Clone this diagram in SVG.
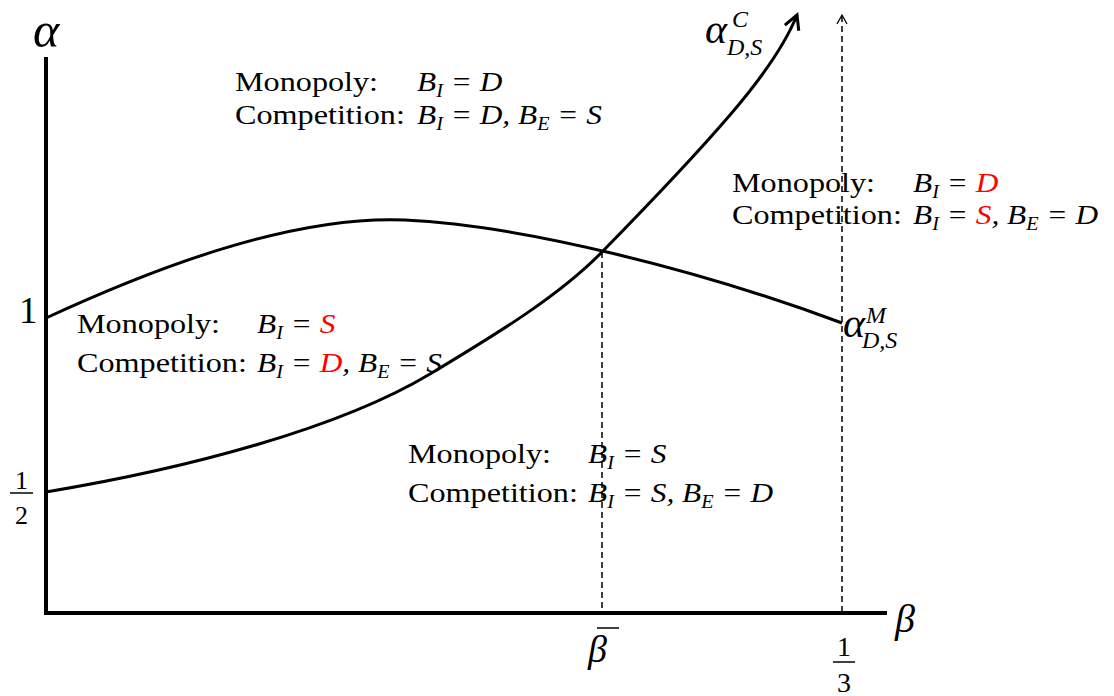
<svg xmlns="http://www.w3.org/2000/svg" width="1114" height="696" viewBox="0 0 1114 696">
<defs>
<style>
.t{font-family:"Liberation Serif","Times New Roman",serif;font-size:28px;fill:#000}
.i{font-style:italic}
.sub{font-size:18px}
.red{fill:#ff0000}
.axis{stroke:#000;stroke-width:4;fill:none}
.curve{stroke:#000;stroke-width:3;fill:none}
.dash{stroke:#000;stroke-width:1.5;stroke-dasharray:6 4;fill:none}
.m{font-family:"Liberation Serif","Times New Roman",serif;fill:#000}
</style>
<marker id="arrC" viewBox="-18 -10 22 20" refX="0" refY="0" markerWidth="22" markerHeight="20" markerUnits="userSpaceOnUse" orient="auto">
<path d="M-14,-7.5 L0,0 L-14,7.5" fill="none" stroke="#000" stroke-width="3"/>
</marker>
<marker id="arrD" viewBox="-12 -7 14 14" refX="0" refY="0" markerWidth="14" markerHeight="14" markerUnits="userSpaceOnUse" orient="auto">
<path d="M-9,-5 L0,0 L-9,5" fill="none" stroke="#000" stroke-width="1.3"/>
</marker>
</defs>

<g id="axes">
<line class="axis" x1="46" y1="57" x2="46" y2="615"/>
<line class="axis" x1="44" y1="613" x2="887" y2="613"/>
<text class="m i" x="33" y="47" font-size="50">α</text>
<text class="m i" x="895" y="632" font-size="40">β</text>
<text class="m" x="19" y="323" font-size="37">1</text>
<g id="half">
<text class="m" x="21.5" y="489" font-size="26" text-anchor="middle">1</text>
<line x1="10" y1="493" x2="33" y2="493" stroke="#000" stroke-width="1.5"/>
<text class="m" x="21.5" y="524" font-size="26" text-anchor="middle">2</text>
</g>
<g id="betabar">
<text class="m i" x="588" y="662" font-size="38">β</text>
<line x1="597" y1="628" x2="619" y2="628" stroke="#000" stroke-width="1.5"/>
</g>
<g id="third">
<text class="m" x="844" y="656" font-size="28" text-anchor="middle">1</text>
<line x1="833" y1="662" x2="855" y2="662" stroke="#000" stroke-width="1.5"/>
<text class="m" x="844" y="692" font-size="28" text-anchor="middle">3</text>
</g>
</g>

<g id="connectors">
<path class="dash" d="M602,252 L602,612"/>
<path class="dash" d="M842,612 L842,15" marker-end="url(#arrD)"/>
<path id="alphaM" class="curve" d="M46,318 C150,270 290,215 405,220 C520,225 700,270 842,323"/>
<path id="alphaC" class="curve" d="M46,492 C190,468 340,428 430,374 C500,332 560,295 602,252 C650,203 700,150 730,115 C760,80 785,45 797,15" marker-end="url(#arrC)"/>
</g>

<g id="label-alphaC">
<text class="m i" x="705" y="43" font-size="42">α</text>
<text class="m i" x="732" y="27" font-size="24">C</text>
<text class="m i" x="727" y="55" font-size="24">D,S</text>
</g>
<g id="label-alphaM">
<text class="m i" x="843" y="337" font-size="42">α</text>
<text class="m i" x="866" y="323" font-size="24">M</text>
<text class="m i" x="862" y="348" font-size="24">D,S</text>
</g>

<g id="region-top" class="t">
<g transform="translate(235,91) scale(1.15,1)">
<text x="0" y="0">Monopoly:</text>
<text x="0" y="33">Competition:</text>
</g>
<g transform="translate(417,91) scale(1.12,1)">
<text class="i" x="0" y="0">B<tspan class="sub" dy="6">I</tspan><tspan dy="-6"> = D</tspan></text>
<text class="i" x="0" y="33">B<tspan class="sub" dy="6">I</tspan><tspan dy="-6"> = D, B</tspan><tspan class="sub" dy="6">E</tspan><tspan dy="-6"> = S</tspan></text>
</g>
</g>

<g id="region-right" class="t">
<g transform="translate(732,192) scale(1.15,1)">
<text x="0" y="0">Monopoly:</text>
<text x="0" y="32">Competition:</text>
</g>
<g transform="translate(913,192) scale(1.12,1)">
<text class="i" x="0" y="0">B<tspan class="sub" dy="6">I</tspan><tspan dy="-6"> = </tspan><tspan class="red">D</tspan></text>
<text class="i" x="0" y="32">B<tspan class="sub" dy="6">I</tspan><tspan dy="-6"> = </tspan><tspan class="red">S</tspan><tspan>, B</tspan><tspan class="sub" dy="6">E</tspan><tspan dy="-6"> = D</tspan></text>
</g>
</g>

<g id="region-left" class="t">
<g transform="translate(77,333) scale(1.15,1)">
<text x="0" y="0">Monopoly:</text>
<text x="0" y="39">Competition:</text>
</g>
<g transform="translate(257,333) scale(1.12,1)">
<text class="i" x="0" y="0">B<tspan class="sub" dy="6">I</tspan><tspan dy="-6"> = </tspan><tspan class="red">S</tspan></text>
<text class="i" x="0" y="39">B<tspan class="sub" dy="6">I</tspan><tspan dy="-6"> = </tspan><tspan class="red">D</tspan><tspan>, B</tspan><tspan class="sub" dy="6">E</tspan><tspan dy="-6"> = S</tspan></text>
</g>
</g>

<g id="region-bottom" class="t">
<g transform="translate(408,463) scale(1.15,1)">
<text x="0" y="0">Monopoly:</text>
<text x="0" y="39">Competition:</text>
</g>
<g transform="translate(588,463) scale(1.12,1)">
<text class="i" x="0" y="0">B<tspan class="sub" dy="6">I</tspan><tspan dy="-6"> = S</tspan></text>
<text class="i" x="0" y="39">B<tspan class="sub" dy="6">I</tspan><tspan dy="-6"> = S, B</tspan><tspan class="sub" dy="6">E</tspan><tspan dy="-6"> = D</tspan></text>
</g>
</g>
</svg>
